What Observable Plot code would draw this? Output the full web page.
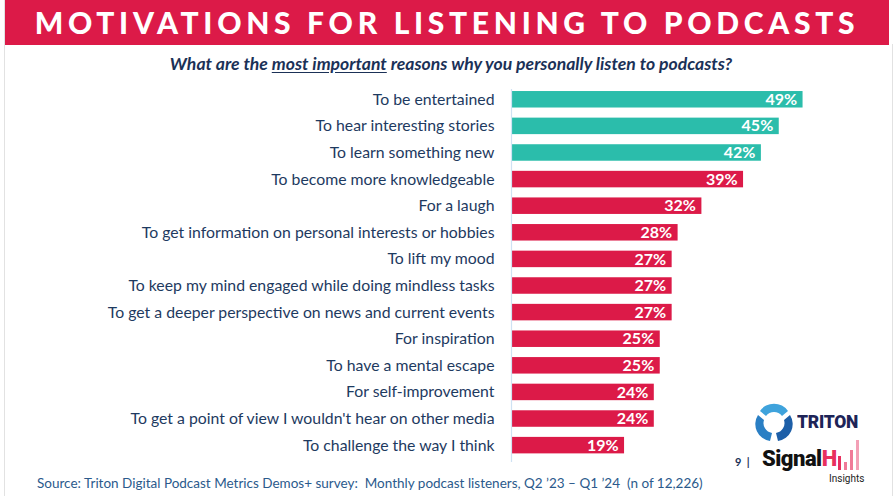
<!DOCTYPE html>
<html>
<head>
<meta charset="utf-8">
<script src="https://cdn.jsdelivr.net/npm/d3@7"></script>
<script src="https://cdn.jsdelivr.net/npm/@observablehq/plot@0.6"></script>
<style>
  html, body { margin: 0; padding: 0; background: #fff; }
  body { width: 896px; height: 496px; position: relative; overflow: hidden; font-family: Lato, "Open Sans", sans-serif; }
  #frameL { position: absolute; left: 4px; top: 0; width: 1px; height: 496px; background: #e2e2e2; }
  #frameR { position: absolute; left: 892px; top: 44px; width: 1px; height: 452px; background: #e2e2e2; }
  #banner { position: absolute; left: 5px; top: 0; width: 884px; height: 45px; background: #dc1a48; }
  #title { position: absolute; left: 5px; top: 0; width: 884px; height: 45px; line-height: 45px; text-align: center; color: #fff; font-family: Lato, sans-serif; font-weight: 900; font-size: 30px; letter-spacing: 4.7px; }
  #subtitle { position: absolute; left: 0; top: 53px; width: 902px; text-align: center; color: #1b3157; font-family: Lato, sans-serif; font-style: italic; font-weight: 700; font-size: 17.6px; }
  #subtitle u { text-underline-offset: 2px; }
  #chart { position: absolute; left: 0; top: 0; }
  #source { position: absolute; left: 37px; top: 475px; color: #2b5a8c; font-family: Lato, sans-serif; font-size: 13.5px; white-space: pre; }
  #page { position: absolute; left: 735px; top: 455px; color: #1b3157; font-family: Lato, sans-serif; font-size: 11px; font-weight: 700; }
  #triton { position: absolute; left: 752px; top: 403px; }
  #tritonText { position: absolute; left: 797px; top: 410px; color: #1d2457; font-family: Roboto, sans-serif; font-weight: 900; font-size: 19px; letter-spacing: -0.3px; transform: scaleX(0.92); transform-origin: left; }
  #signal { position: absolute; left: 762px; top: 446px; color: #111; font-family: Roboto, sans-serif; font-weight: 900; font-size: 22px; letter-spacing: -0.5px; }
  #signal span { color: #e8305e; }
  #hillbars { position: absolute; left: 836px; top: 440px; }
  #insights { position: absolute; left: 829px; top: 473px; color: #222; font-family: Roboto, sans-serif; font-size: 10px; }
</style>
</head>
<body>
<div id="frameL"></div>
<div id="frameR"></div>
<div id="banner"></div>
<div id="title">MOTIVATIONS FOR LISTENING TO PODCASTS</div>
<div id="subtitle">What are the <u>most important</u> reasons why you personally listen to podcasts?</div>
<div id="chart"></div>
<div id="source">Source: Triton Digital Podcast Metrics Demos+ survey:  Monthly podcast listeners, Q2 ’23 – Q1 ’24  (n of 12,226)</div>
<div id="page">9 &nbsp;|</div>
<svg id="triton" width="44" height="42" viewBox="0 0 44 42">
  <path d="M8 8 A17 17 0 0 1 36 8 L30 13 A10 10 0 0 0 14 13 Z" fill="#3fa3dc"/>
  <path d="M38 12 A17 17 0 0 1 26 38 L24 30 A10 10 0 0 0 32 17 Z" fill="#1d5fa8"/>
  <path d="M18 38 A17 17 0 0 1 6 12 L12 17 A10 10 0 0 0 20 30 Z" fill="#2a7fc4"/>
</svg>
<div id="tritonText">TRITON</div>
<div id="signal">Signal<span>H</span></div>
<svg id="hillbars" width="30" height="34" viewBox="0 0 30 34">
  <rect x="2" y="16" width="3" height="14" fill="#e8305e"/>
  <rect x="8" y="22" width="3" height="8" fill="#f07a98"/>
  <rect x="14" y="10" width="3" height="20" fill="#f07a98"/>
  <rect x="20" y="0" width="3" height="30" fill="#f3a0b6"/>
</svg>
<div id="insights">Insights</div>

<script>
const labels = [
  "To be entertained",
  "To hear interesting stories",
  "To learn something new",
  "To become more knowledgeable",
  "For a laugh",
  "To get information on personal interests or hobbies",
  "To lift my mood",
  "To keep my mind engaged while doing mindless tasks",
  "To get a deeper perspective on news and current events",
  "For inspiration",
  "To have a mental escape",
  "For self-improvement",
  "To get a point of view I wouldn't hear on other media",
  "To challenge the way I think"
];
const values = [49, 45, 42, 39, 32, 28, 27, 27, 27, 25, 25, 24, 24, 19];
const groups = ["top", "top", "top", "other", "other", "other", "other", "other", "other", "other", "other", "other", "other", "other"];

const data = labels.map((label, i) => ({label, value: values[i], group: groups[i]}));

const chart = Plot.plot({
  width: 896,
  height: 462,
  marginTop: 89,
  marginBottom: 0,
  marginLeft: 511,
  marginRight: 87.5,
  style: {fontFamily: "Lato, sans-serif", background: "transparent"},
  x: {domain: [0, 50], axis: null},
  y: {domain: labels, paddingInner: 0.38, paddingOuter: 0.2, align: 0.19, round: false, label: null},
  color: {domain: ["top", "other"], range: ["#2bbdab", "#dc1a48"]},
  marks: [
    Plot.barX(data, {x: "value", y: "label", fill: "group"}),
    Plot.ruleX([0], {stroke: "#cfe2f3", strokeWidth: 1.2}),
    Plot.text(data, {x: "value", y: "label", text: d => d.value + "%", textAnchor: "end", dx: -6, fill: "white", fontWeight: "bold", fontSize: 16}),
    Plot.axisY({tickSize: 0, tickPadding: 17, fontSize: 15.8, color: "#1e3a5f", label: null})
  ]
});
document.getElementById("chart").appendChild(chart);
</script>
</body>
</html>
